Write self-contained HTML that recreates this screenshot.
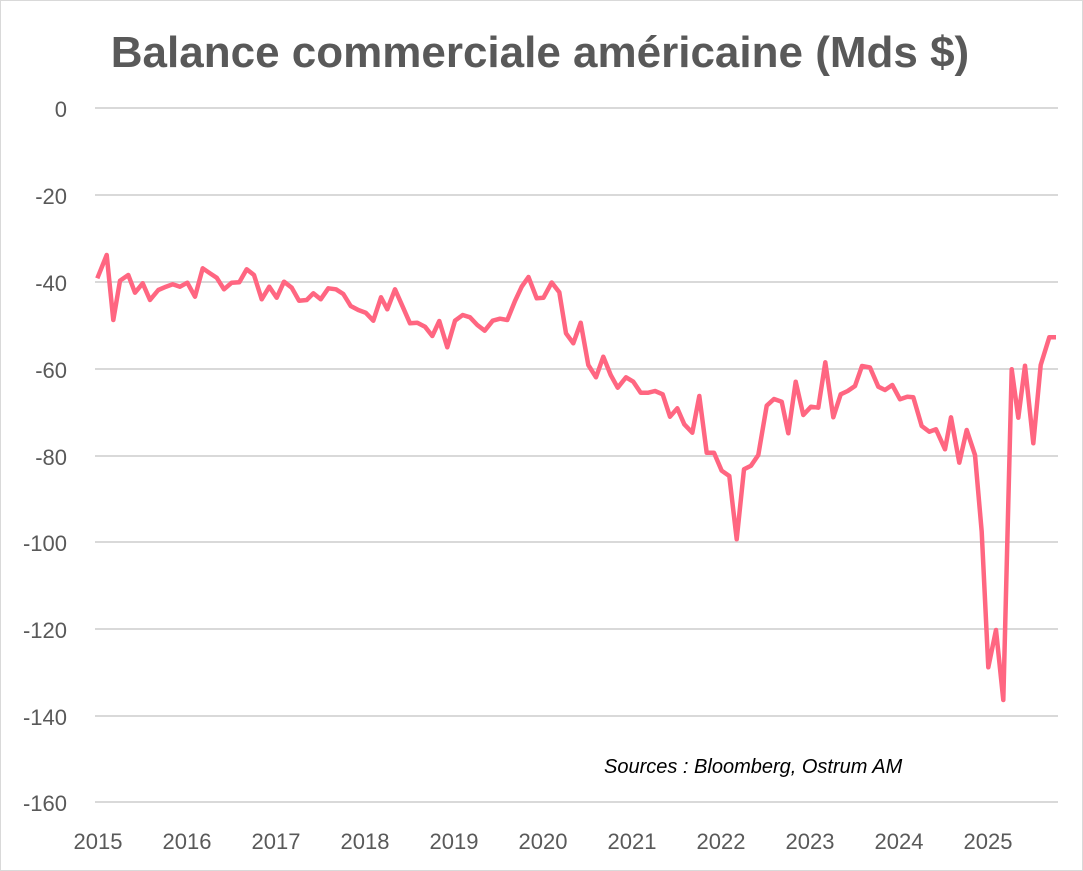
<!DOCTYPE html>
<html><head><meta charset="utf-8"><style>
body{margin:0;background:#fff}
svg{display:block}
text{font-family:"Liberation Sans",sans-serif;fill:#595959}
</style></head><body>
<svg width="1083" height="871" viewBox="0 0 1083 871">
<rect x="0.5" y="0.5" width="1082" height="870" fill="#fff" stroke="#d9d9d9"/>
<text x="540" y="67" text-anchor="middle" font-size="44" font-weight="bold">Balance commerciale américaine (Mds $)</text>
<g stroke="#d9d9d9" stroke-width="2">
<line x1="95" x2="1058" y1="108" y2="108"/><line x1="95" x2="1058" y1="195" y2="195"/>
<line x1="95" x2="1058" y1="282" y2="282"/><line x1="95" x2="1058" y1="369" y2="369"/>
<line x1="95" x2="1058" y1="456" y2="456"/><line x1="95" x2="1058" y1="542" y2="542"/>
<line x1="95" x2="1058" y1="629" y2="629"/><line x1="95" x2="1058" y1="716" y2="716"/>
<line x1="95" x2="1058" y1="802" y2="802"/>
</g>
<g font-size="22" text-anchor="end">
<text x="67" y="117">0</text><text x="67" y="204">-20</text><text x="67" y="291">-40</text>
<text x="67" y="378">-60</text><text x="67" y="465">-80</text><text x="67" y="551">-100</text>
<text x="67" y="638">-120</text><text x="67" y="725">-140</text><text x="67" y="811">-160</text>
</g>
<g font-size="22" text-anchor="middle">
<text x="98" y="849">2015</text><text x="187" y="849">2016</text><text x="276" y="849">2017</text>
<text x="365" y="849">2018</text><text x="454" y="849">2019</text><text x="543" y="849">2020</text>
<text x="632" y="849">2021</text><text x="721" y="849">2022</text><text x="810" y="849">2023</text>
<text x="899" y="849">2024</text><text x="988" y="849">2025</text>
</g>
<text x="604" y="773" font-size="20" font-style="italic" style="fill:#000">Sources : Bloomberg, Ostrum AM</text>
<polyline fill="none" stroke="#ff6681" stroke-width="4.5" stroke-linejoin="round" points="
97.3,278.3 106.7,255 113.3,320 120,280.7 128.3,275 135,292.7 142.7,283.3 150,300 158.3,290 166,286.7 172.7,284.3 180,286.7 187.3,282.7 195,296.7 202.7,268.3 210,273.3 216.7,277.7 224,289.3 231.7,282.7 239.3,282.3 246.7,269.3 254,275 261.7,299.3 269.3,286.7 276.7,297.7 284,281.7 291.7,287.7 299,300.7 306.7,300 313.3,293.3 320.7,299.3 328.3,288.3 336,289.3 343.3,294 350.7,306 358.3,310 365.7,312.7 373.3,320.7 381,297.3 387.3,309.3 395,289.3 402.7,306.7 410,323.3 417.3,322.7 425,326.7 432.3,336 439.3,321 447.3,347.3 455,320.7 462.7,315 470,317.3 477.3,325 484.7,330.7 492.7,320.7 500,318.7 507.3,320 515,301 521.7,286.7 528.5,277 536.7,298.3 543.5,297.7 551.7,282.5 559.3,292.3 566,333.3 573.3,343.3 580.7,322.7 588.3,365 596,377.3 603.3,356.7 610.7,375 617.7,387.7 626,377.3 633.3,381.7 640.7,392.7 648.3,392.7 655,391 662.7,394.3 670,416.7 677.3,408.3 684.3,424.3 692.3,432.7 699.3,396 706.7,452.7 714,452.7 721.7,470.7 729.3,476 736.7,539.3 744,469.3 751,465.7 758.3,455 766.7,405.7 774,399 781.7,401.7 788.3,433.3 795.7,381.7 803.3,415 811,406.7 818.3,407.7 825.3,362.3 833.3,417.3 840.7,394.3 847.7,391 855,386 862,366 870,367.5 878.3,386.7 885,390 892.3,385 900,399.3 907.3,396.7 913.3,397.3 921.7,426 929.3,431.7 936,429.3 945,449.3 951,417.3 959.3,462.7 966.7,430 975,455 981.7,531.7 988.3,667.3 996,630 1003.3,700 1011.7,369.3 1018.3,417.7 1025,365.7 1033.3,443.3 1040.7,365 1049.3,337.3 1056,337.3"/>
</svg>
</body></html>
